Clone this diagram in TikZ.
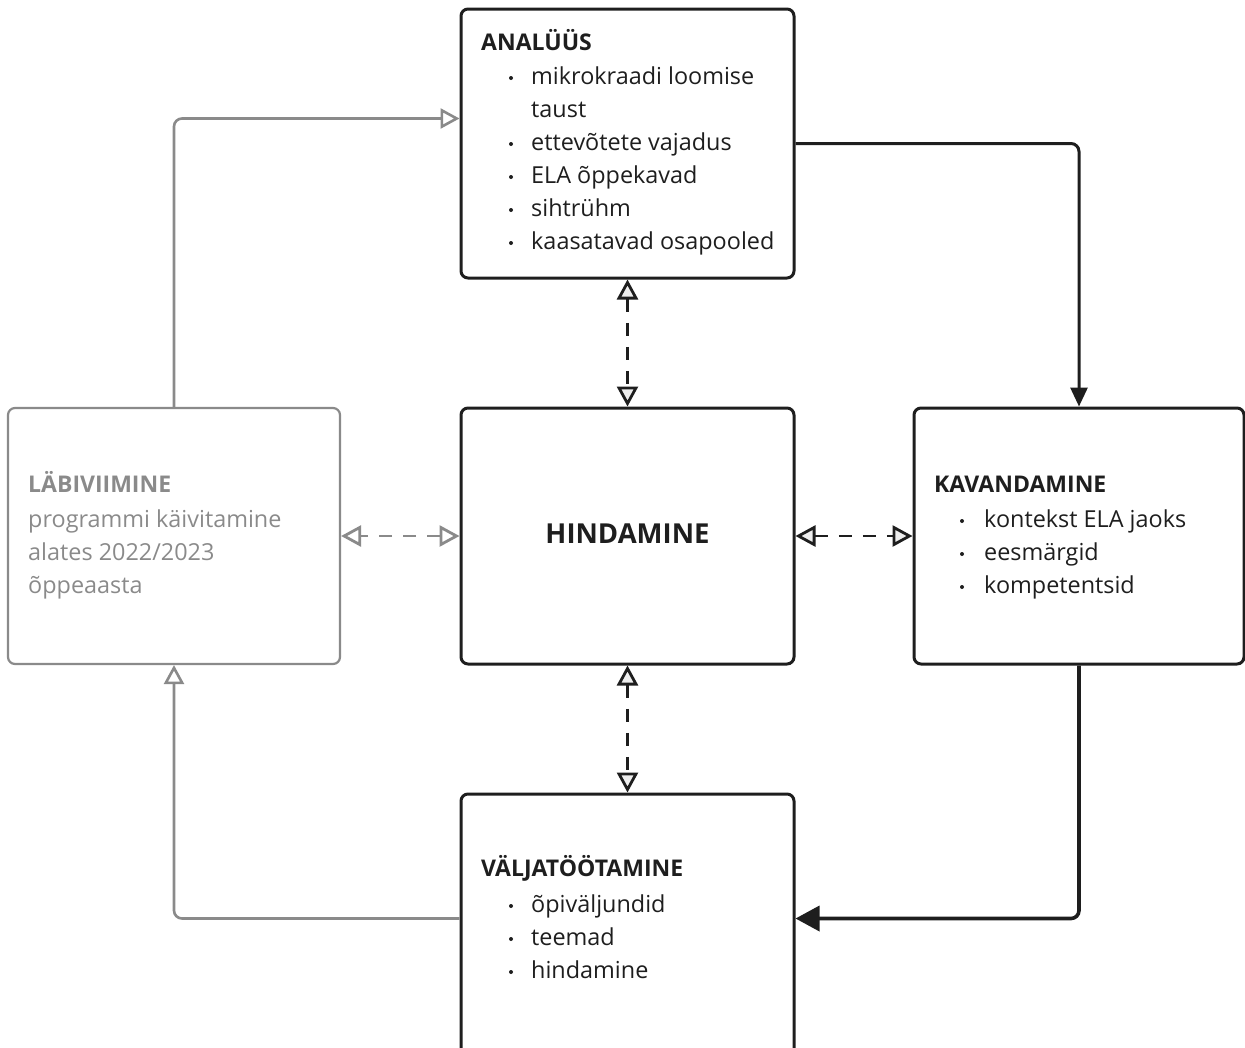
\documentclass[tikz,border=0pt]{standalone}
\usepackage{fontspec}
\setmainfont{Open Sans}
\usetikzlibrary{arrows.meta,calc}
\definecolor{ink}{HTML}{1E1E1E}
\definecolor{greyink}{HTML}{8A8A8A}
\definecolor{tipfill}{HTML}{EEEEEE}
\begin{document}
\begin{tikzpicture}[x=1pt,y=-1pt,
  box/.style={draw=ink,line width=3pt,rounded corners=7pt,inner sep=0pt},
  gbox/.style={draw=greyink,line width=2.2pt,rounded corners=7pt,inner sep=0pt},
  txt/.style={anchor=base west,inner sep=0pt,font=\fontsize{23.4}{27}\selectfont,text=ink},
  ttl/.style={anchor=base west,inner sep=0pt,font=\fontsize{23}{27}\selectfont\bfseries,text=ink},
  gtxt/.style={txt,text=greyink},
  gttl/.style={ttl,text=greyink},
  flow/.style={draw=ink,line width=3pt,rounded corners=8pt},
  gflow/.style={draw=greyink,line width=2.6pt,rounded corners=8pt},
  dashline/.style={line width=2.8pt,dash pattern=on 13pt off 11pt},
]
\useasboundingbox (0,0) rectangle (1245,1047);
\clip (0,0) rectangle (1245,1047);

% boxes
\node[box,minimum width=333pt,minimum height=269pt] (ana) at (627.5,143.5) {};
\node[box,minimum width=333pt,minimum height=256pt] (hin) at (627.5,536) {};
\node[box,minimum width=330pt,minimum height=256pt] (kav) at (1079,536) {};
\node[box,minimum width=333pt,minimum height=280pt] (val) at (627.5,934) {};
\node[gbox,minimum width=332pt,minimum height=256pt] (lab) at (174,536) {};

% ANALÜÜS
\node[ttl] (anat) at (481,50) {ANALÜÜS};
\foreach \t [count=\i] in {mikrokraadi loomise,taust,ettevõtete vajadus,ELA õppekavad,sihtrühm,kaasatavad osapooled}{
  \node[txt] (ana\i) at (531,51+33*\i) {\t};
}
\foreach \i in {1,3,4,5,6}{\fill[ink] (511,45+33*\i) circle[radius=2pt];}

% HINDAMINE
\node[inner sep=0pt,font=\fontsize{27.5}{32}\selectfont\bfseries,text=ink] (hint) at (627.5,534) {HINDAMINE};

% KAVANDAMINE
\node[ttl] (kavt) at (934,492) {KAVANDAMINE};
\foreach \t [count=\i] in {kontekst ELA jaoks,eesmärgid,kompetentsid}{
  \node[txt] (kav\i) at (984,494+33*\i) {\t};
  \fill[ink] (962,488+33*\i) circle[radius=2pt];
}

% VÄLJATÖÖTAMINE
\node[ttl] (valt) at (481,876) {VÄLJATÖÖTAMINE};
\foreach \t [count=\i] in {õpiväljundid,teemad,hindamine}{
  \node[txt] (val\i) at (531,879+33*\i) {\t};
  \fill[ink] (511,873+33*\i) circle[radius=2pt];
}

% LÄBIVIIMINE
\node[gttl] (labt) at (28,492) {LÄBIVIIMINE};
\foreach \t [count=\i] in {programmi käivitamine,alates 2022/2023,õppeaasta}{
  \node[gtxt] (lab\i) at (28,494+33*\i) {\t};
}

% cycle connectors
\coordinate (valin) at ($(val.north east)+(0,126)$);
\coordinate (valout) at ($(val.north west)+(0,126)$);
\coordinate (anain) at ($(ana.north west)+(0,111)$);
\draw[flow,-{Triangle[length=19pt,width=17pt]}] (ana.east) -| (kav.north);
\draw[flow,line width=3.6pt,-{Triangle[length=24pt,width=25pt]}] (kav.south) |- (valin);
\draw[gflow,-{Triangle[length=19pt,width=20pt,fill=white]}] (valout) -| (lab.south);
\draw[gflow,-{Triangle[length=19pt,width=20pt,fill=white]}] (lab.north) |- (anain);

% dashed links
\draw[ink,dashline,{Triangle[length=20pt,width=21pt,fill=tipfill]}-{Triangle[length=20pt,width=21pt,fill=tipfill]}] (ana.south) -- (hin.north);
\draw[ink,dashline,{Triangle[length=20pt,width=21pt,fill=tipfill]}-{Triangle[length=20pt,width=21pt,fill=tipfill]}] (hin.south) -- (val.north);
\draw[ink,dashline,{Triangle[length=20pt,width=21pt,fill=tipfill]}-{Triangle[length=20pt,width=21pt,fill=tipfill]}] (hin.east) -- (kav.west);
\draw[greyink,dashline,{Triangle[length=20pt,width=21pt,fill=white]}-{Triangle[length=20pt,width=21pt,fill=white]}] (hin.west) -- (lab.east);
\end{tikzpicture}
\end{document}
